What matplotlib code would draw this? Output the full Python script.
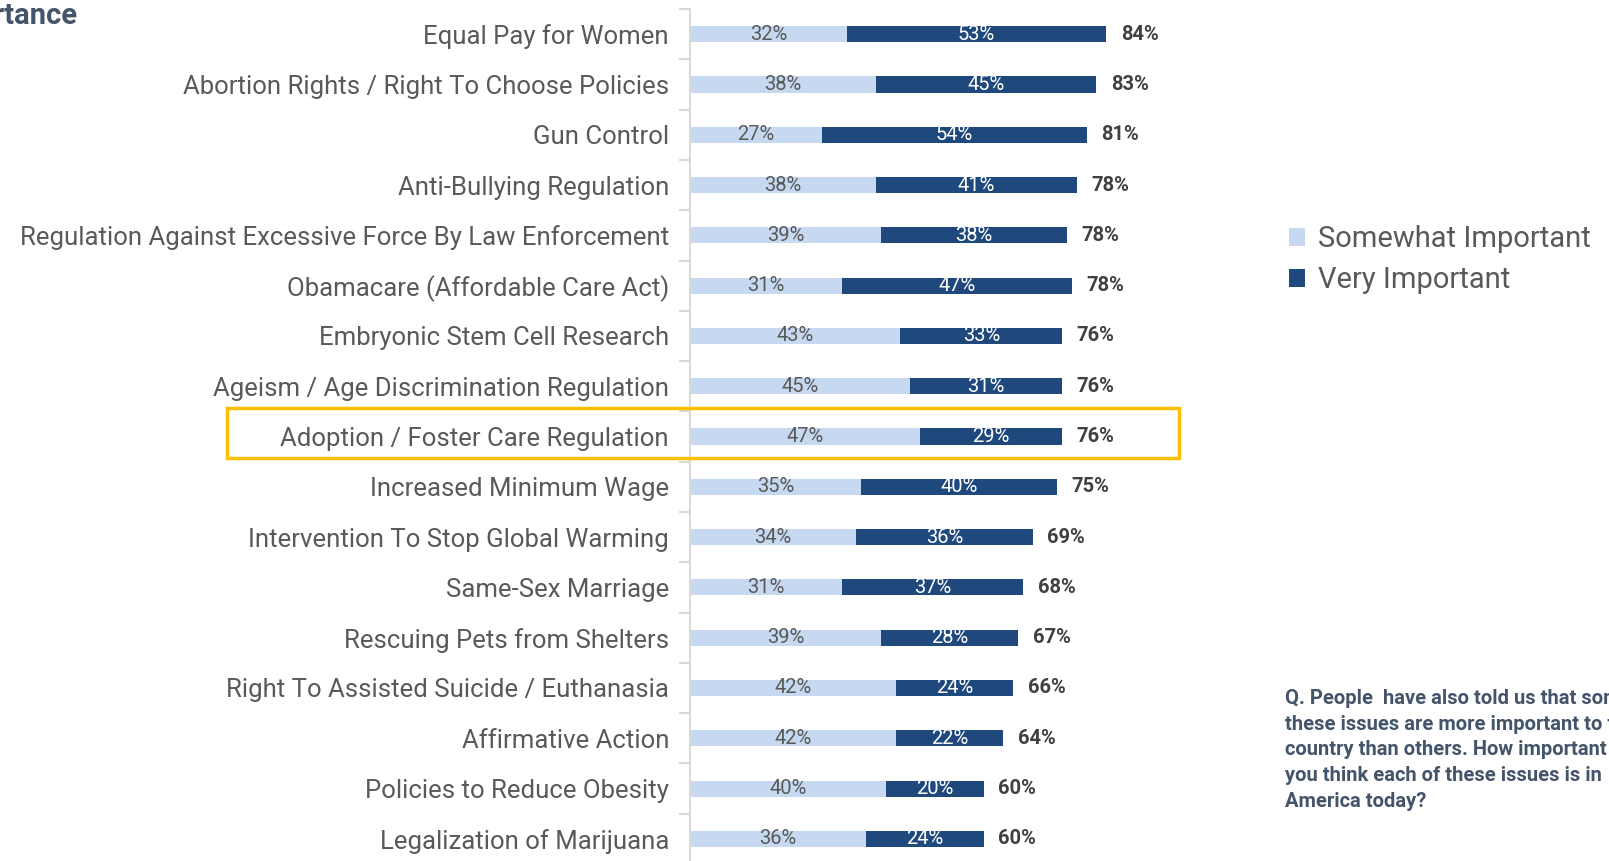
import matplotlib.pyplot as plt
import matplotlib.transforms as mtransforms
from matplotlib.patches import Rectangle
import numpy as np

# datos
temas = [
    "Equal Pay for Women",
    "Abortion Rights / Right To Choose Policies",
    "Gun Control",
    "Anti-Bullying Regulation",
    "Regulation Against Excessive Force By Law Enforcement",
    "Obamacare (Affordable Care Act)",
    "Embryonic Stem Cell Research",
    "Ageism / Age Discrimination Regulation",
    "Adoption / Foster Care Regulation",
    "Increased Minimum Wage",
    "Intervention To Stop Global Warming",
    "Same-Sex Marriage",
    "Rescuing Pets from Shelters",
    "Right To Assisted Suicide / Euthanasia",
    "Affirmative Action",
    "Policies to Reduce Obesity",
    "Legalization of Marijuana",
]
algo_importante = [32, 38, 27, 38, 39, 31, 43, 45, 47, 35, 34, 31, 39, 42, 42, 40, 36]
muy_importante = [53, 45, 54, 41, 38, 47, 33, 31, 29, 40, 36, 37, 28, 24, 22, 20, 24]
total = [84, 83, 81, 78, 78, 78, 76, 76, 76, 75, 69, 68, 67, 66, 64, 60, 60]
resaltado = "Adoption / Foster Care Regulation"

color_claro = "#C6D9F0"
color_oscuro = "#1F497D"
gris_texto = "#595959"
pizarra = "#44546A"

plt.rcParams['font.family'] = ['Roboto', 'DejaVu Sans']

fig = plt.figure(figsize=(16.09, 8.61), dpi=100)
ax = fig.add_axes([0.4288, -0.0035, 0.3043, 0.993])

y = np.arange(len(temas))
alto = 0.32
ax.barh(y, algo_importante, height=alto, color=color_claro, label="Somewhat Important")
ax.barh(y, muy_importante, left=algo_importante, height=alto, color=color_oscuro, label="Very Important")

for i in range(len(temas)):
    a = algo_importante[i]
    m = muy_importante[i]
    ax.text(a / 2, i, f"{a}%", ha="center", va="center", fontsize=14.5, color=gris_texto)
    ax.text(a + m / 2, i, f"{m}%", ha="center", va="center", fontsize=14.5, color="white")
    ax.text(a + m + 3, i, f"{total[i]}%", ha="left", va="center", fontsize=14.5,
            color="#404040", fontweight="bold")

ax.set_xlim(0, 100)
ax.set_ylim(len(temas) - 0.5, -0.5)
ax.set_yticks(y)
ax.set_yticklabels(temas, fontsize=18.5, color=gris_texto)
ax.set_yticks(np.arange(len(temas) + 1) - 0.5, minor=True)
ax.tick_params(axis="y", which="major", length=0, pad=15)
ax.tick_params(axis="y", which="minor", length=8, width=1.5, color="#D9D9D9")
ax.set_xticks([])
for lado in ["top", "right", "bottom"]:
    ax.spines[lado].set_visible(False)
ax.spines["left"].set_color("#D9D9D9")
ax.spines["left"].set_linewidth(1.5)

# recuadro de la fila resaltada
k = temas.index(resaltado)
trans = mtransforms.blended_transform_factory(fig.transFigure, ax.transData)
caja = Rectangle((0.141, k - 0.56), 0.592, 0.98, transform=trans, fill=False,
                 edgecolor="#FFC000", linewidth=2.5, clip_on=False)
fig.add_artist(caja)

ax.legend(loc="upper left", bbox_to_anchor=(0.785, 0.769), bbox_transform=fig.transFigure,
          frameon=False, fontsize=21, labelcolor=gris_texto, handlelength=0.55,
          handleheight=0.55, handletextpad=0.45, labelspacing=0.45)

# titulo cortado arriba a la izquierda
fig.text(0.048, 0.998, "Issue Importance", ha="right", va="top", fontsize=21,
         fontweight="bold", color=pizarra)

pregunta = ("Q. People  have also told us that some of\n"
            "these issues are more important to this\n"
            "country than others. How important do\n"
            "you think each of these issues is in\n"
            "America today?")
fig.text(0.7985, 0.2, pregunta, ha="left", va="top", fontsize=14.5,
         fontweight="bold", color=pizarra, linespacing=1.45)

fig.savefig("out.png", dpi=100)
